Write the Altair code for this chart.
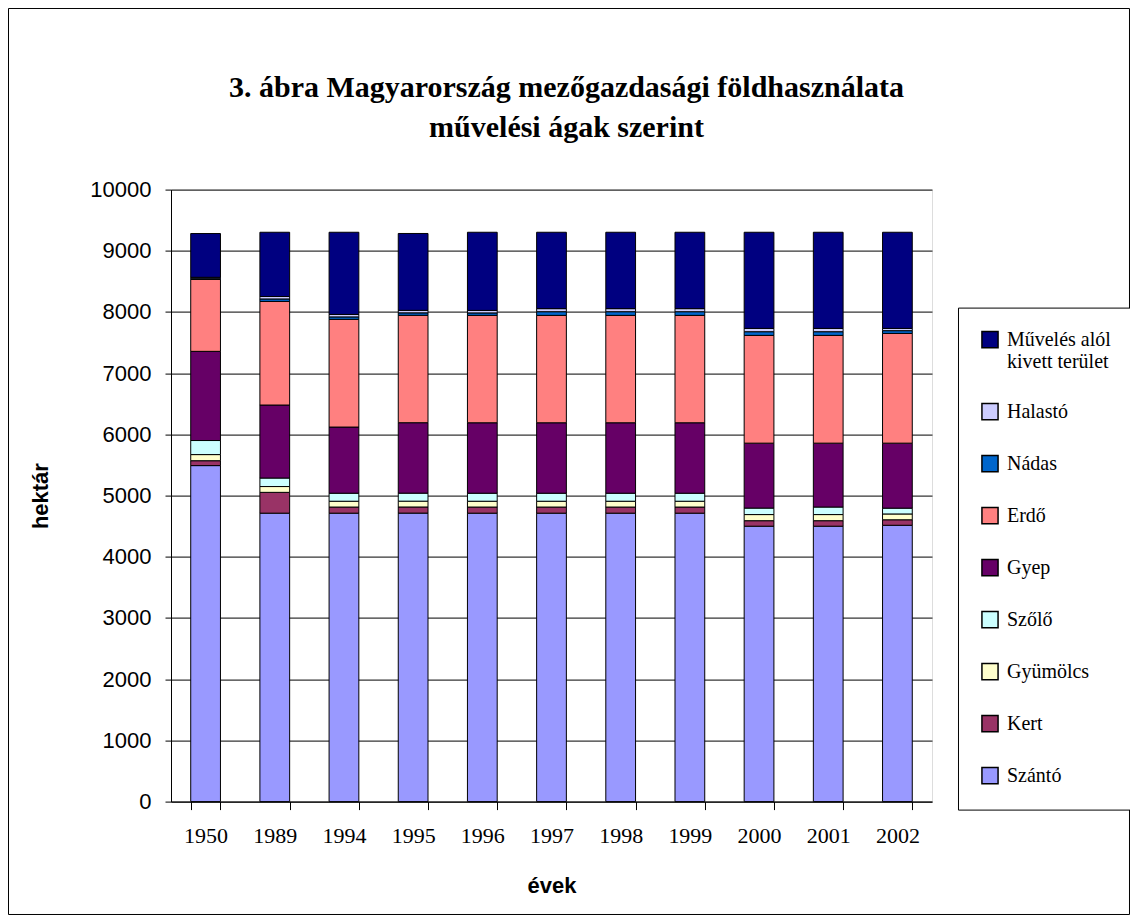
import altair as alt
import pandas as pd

years = ["1950", "1989", "1994", "1995", "1996", "1997", "1998", "1999", "2000", "2001", "2002"]
szanto = [5490, 4713, 4713, 4714, 4713, 4713, 4713, 4713, 4500, 4500, 4515]
kert = [80, 340, 100, 100, 100, 100, 100, 100, 90, 90, 90]
gyumolcs = [100, 95, 95, 95, 95, 95, 95, 95, 100, 100, 95]
szolo = [230, 139, 131, 131, 131, 131, 131, 131, 106, 123, 95]
gyep = [1457, 1193, 1081, 1151, 1151, 1151, 1151, 1151, 1061, 1044, 1062]
erdo = [1175, 1693, 1760, 1755, 1755, 1755, 1755, 1755, 1761, 1761, 1793]
nadas = [20, 40, 40, 40, 40, 60, 60, 60, 60, 60, 45]
halasto = [15, 40, 40, 41, 41, 50, 50, 50, 54, 54, 37]
kivett = [715, 1050, 1343, 1256, 1277, 1248, 1248, 1248, 1571, 1571, 1571]

series_names = ["Szántó", "Kert", "Gyümölcs", "Szőlő", "Gyep", "Erdő", "Nádas", "Halastó",
                "Művelés alól kivett terület"]
series_values = [szanto, kert, gyumolcs, szolo, gyep, erdo, nadas, halasto, kivett]
series_colors = ["#9999FF", "#993366", "#FFFFCC", "#CCFFFF", "#660066", "#FF8080", "#0066CC",
                 "#CCCCFF", "#000080"]

rows = []
for i, (name, vals) in enumerate(zip(series_names, series_values)):
    for y, v in zip(years, vals):
        rows.append({"év": y, "sorozat": name, "érték": v, "ord": i})
df = pd.DataFrame(rows)

legend_domain = list(reversed(series_names))
legend_range = list(reversed(series_colors))

bars = alt.Chart(df).mark_bar(stroke="black", strokeWidth=1).encode(
    x=alt.X("év:N", sort=years,
            scale=alt.Scale(paddingInner=0.57, paddingOuter=0.285),
            axis=alt.Axis(title="évek", labelAngle=0, tickBand="extent",
                          labelFont="Liberation Serif", labelFontSize=22, labelColor="black",
                          labelPadding=16, tickSize=8, tickColor="black", domainColor="black",
                          titleFont="Liberation Sans", titleFontSize=22, titleFontWeight="bold",
                          titleColor="black", titlePadding=29)),
    y=alt.Y("érték:Q", stack="zero",
            scale=alt.Scale(domain=[0, 10000]),
            axis=alt.Axis(title="hektár", values=list(range(0, 10001, 1000)), format="d",
                          labelFont="Liberation Sans", labelFontSize=22, labelColor="black",
                          labelPadding=14, tickSize=6, tickColor="black", domainColor="black",
                          gridColor="black", gridWidth=1,
                          titleFont="Liberation Sans", titleFontSize=22, titleFontWeight="bold",
                          titleColor="black", titlePadding=37)),
    color=alt.Color("sorozat:N",
                    scale=alt.Scale(domain=legend_domain, range=legend_range),
                    legend=alt.Legend(title=None, orient="none", legendX=787, legendY=118,
                                      symbolType="square", symbolSize=260,
                                      symbolStrokeColor="black", symbolStrokeWidth=1.5,
                                      symbolOpacity=1,
                                      labelFont="Liberation Serif", labelFontSize=20,
                                      labelColor="black", labelOffset=7, rowPadding=28,
                                      labelLimit=200,
                                      labelExpr="datum.label == 'Művelés alól kivett terület' ? ['Művelés alól', 'kivett terület'] : datum.label",
                                      padding=22, strokeColor="black", fillColor="white")),
    order=alt.Order("ord:Q", sort="ascending"),
)

border = alt.Chart(pd.DataFrame({"k": [0]})).mark_rect(
    fillOpacity=0, stroke="black", strokeWidth=1
).encode(
    x=alt.value(-162.5), x2=alt.value(958.5), y=alt.value(-181.1), y2=alt.value(724.9)
)

chart = alt.layer(bars, border).properties(
    width=761, height=612,
    autosize=alt.AutoSizeParams(type="none"),
    padding={"left": 163, "top": 181.6, "right": 198, "bottom": 113},
    title=alt.TitleParams(
        text=["3. ábra Magyarország mezőgazdasági földhasználata", "művelési ágak szerint"],
        font="Liberation Serif", fontSize=30, fontWeight="bold", color="black",
        anchor="middle", frame="group", dx=15, offset=-135, lineHeight=40),
).configure_view(
    fill="#C0C0C0", stroke="#808080", strokeWidth=1
).configure(background="white")

chart.save("out.html", embed_options={"renderer": "svg", "actions": False})
